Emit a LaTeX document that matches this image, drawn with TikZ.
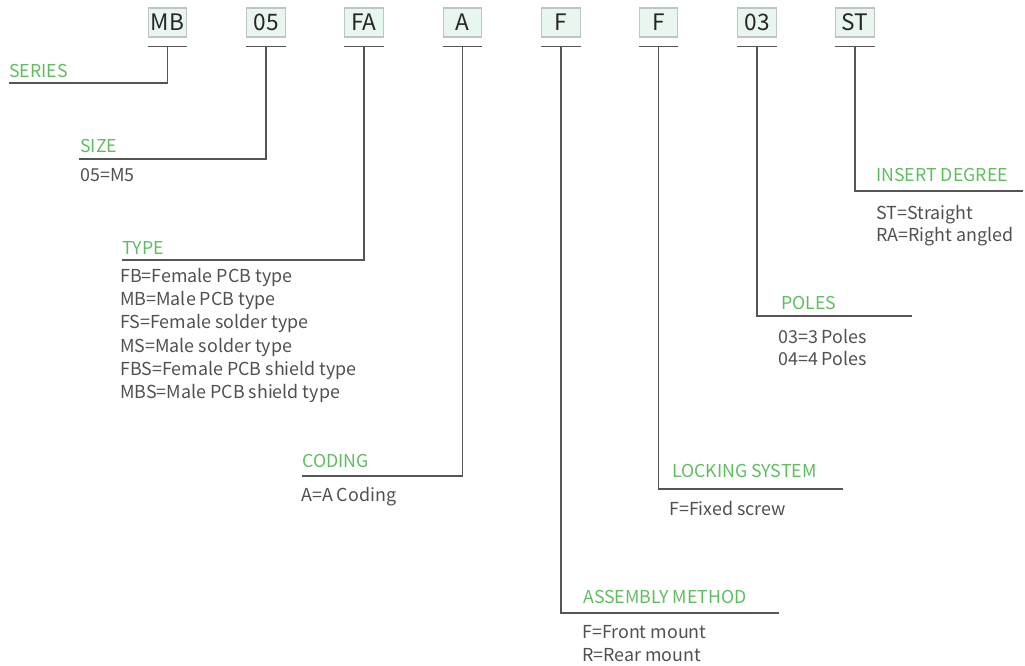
\documentclass[tikz,border=0pt]{standalone}
\usepackage{fontspec}
\setmainfont{Noto Sans CJK SC}
\usetikzlibrary{calc}
\definecolor{hijau}{RGB}{94,190,94}
\definecolor{teks}{RGB}{80,80,80}
\definecolor{garis}{RGB}{85,85,85}
\definecolor{isi}{RGB}{233,245,239}
\definecolor{tepi}{RGB}{190,198,194}
\tikzset{
  kotak/.style={draw=tepi,fill=isi,line width=0.8pt,inner sep=0pt,
    minimum width=29pt,minimum height=21.75pt,
    font=\fontsize{17}{20}\selectfont,text=black!85},
  judul/.style={anchor=base west,inner sep=0pt,text=hijau,
    font=\fontsize{13.3}{17}\selectfont},
  isian/.style={anchor=base west,inner sep=0pt,align=left,text=teks,
    font=\fontsize{13.4}{17}\selectfont},
  garisan/.style={draw=garis,line width=1pt}
}
\newcommand{\kode}[3]{%
  \node[kotak] (#1) at (#2,22.5) {#3};
  \draw[garisan] ($(#1.south west)+(0,9)$) -- ($(#1.south east)+(0,9)$);
  \coordinate (#1-t) at ($(#1.south)+(0,9)$);}

\begin{document}
\begin{tikzpicture}[x=0.75pt,y=-0.75pt]
  \useasboundingbox (0,0) rectangle (1025,666);
  \kode{mb}{167.5}{MB}
  \kode{sz}{266}{05}
  \kode{ty}{364}{FA}
  \kode{cd}{462.5}{A}
  \kode{am}{561}{F}
  \kode{ls}{658.5}{F}
  \kode{pl}{757}{03}
  \kode{id}{855}{ST}

  \coordinate (mb-e) at (9,83);
  \coordinate (sz-e) at (79,159);
  \coordinate (ty-e) at (122,260);
  \coordinate (cd-e) at (302,476);
  \coordinate (am-e) at (779,613);
  \coordinate (ls-e) at (843,489);
  \coordinate (pl-e) at (912,316);
  \coordinate (id-e) at (1023,191);
  \foreach \k in {mb,sz,ty,cd,am,ls,pl,id}
    \draw[garisan] (\k-t) |- (\k-e);

  \node[judul] (mb-l) at (9,78)    {SERIES};
  \node[judul] (sz-l) at (80,153)  {SIZE};
  \node[judul] (ty-l) at (122,255) {TYPE};
  \node[judul] (cd-l) at (302,468) {CODING};
  \node[judul] (am-l) at (583,603) {ASSEMBLY METHOD};
  \node[judul] (ls-l) at (672,478) {LOCKING SYSTEM};
  \node[judul] (pl-l) at (781,310) {POLES};
  \node[judul] (id-l) at (876,182) {INSERT DEGREE};

  % base of a multi-line node = baseline of its last line
  \node[isian] (sz-b) at (80,182)  {05=M5};
  \node[isian,font=\fontsize{13.4}{17.5}\selectfont] (ty-b) at (120,399)
    {FB=Female PCB type\\MB=Male PCB type\\
    FS=Female solder type\\MS=Male solder type\\
    FBS=Female PCB shield type\\MBS=Male PCB shield type};
  \node[isian] (cd-b) at (301,502) {A=A Coding};
  \node[isian] (am-b) at (582,661) {F=Front mount\\R=Rear mount};
  \node[isian] (ls-b) at (669,516) {F=Fixed screw};
  \node[isian] (pl-b) at (778,366) {03=3 Poles\\04=4 Poles};
  \node[isian] (id-b) at (876,242) {ST=Straight\\RA=Right angled};
\end{tikzpicture}
\end{document}
